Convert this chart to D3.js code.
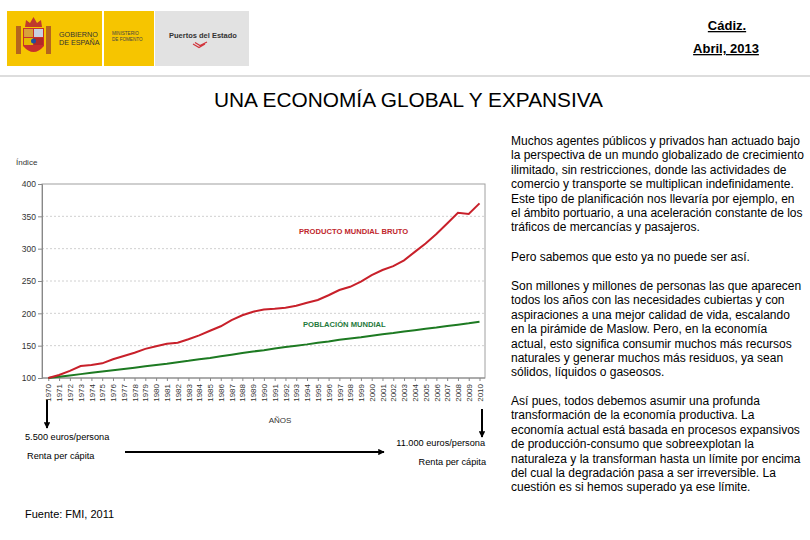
<!DOCTYPE html>
<html><head><meta charset="utf-8">
<script src="https://cdn.jsdelivr.net/npm/d3@7"></script>
<style>
html,body{margin:0;padding:0;background:#fff;}
svg{display:block;font-family:"Liberation Sans",Arial,sans-serif;}
</style></head>
<body>
<svg id="c" width="810" height="540"></svg>
<script>
const years = d3.range(1970, 2011);
const productoMundialBruto = [100,104.6,111,118.5,120,122.7,129,134,139,145,149,153,154.6,160,166,173,180,189.6,197,202.5,206,207,208.7,211.8,216.4,220.6,228,236,241,249,259,267,273,282,295,308,322.6,339,355.6,353.5,370];
const poblacionMundial = [100,102,104,106,108,110,112,114,116,118,120,122,124.5,126.5,129,131,133.5,136,138.5,141,143,145.5,148,150,152,154.5,156.5,159,161,163,165.5,167.5,169.5,172,174,176,178,180.5,182.5,184.5,187];
const yTicks = [100,150,200,250,300,350,400];
const seriesLabels = ["PRODUCTO MUNDIAL BRUTO","POBLACIÓN MUNDIAL"];
const par1 = ["Muchos agentes públicos y privados han actuado bajo","la perspectiva de un mundo globalizado de crecimiento","ilimitado, sin restricciones, donde las actividades de","comercio y transporte se multiplican indefinidamente.","Este tipo de planificación nos llevaría por ejemplo, en","el ámbito portuario, a una aceleración constante de los","tráficos de mercancías y pasajeros."];
const par2 = ["Pero sabemos que esto ya no puede ser así."];
const par3 = ["Son millones y millones de personas las que aparecen","todos los años con las necesidades cubiertas y con","aspiraciones a una mejor calidad de vida, escalando","en la pirámide de Maslow.  Pero, en la economía","actual, esto significa consumir muchos más recursos","naturales y generar muchos más residuos, ya sean","sólidos, líquidos o gaseosos."];
const par4 = ["Así pues, todos debemos asumir una profunda","transformación de la economía productiva. La","economía actual está basada en procesos expansivos","de producción-consumo que sobreexplotan la","naturaleza y la transforman hasta un límite por encima","del cual la degradación pasa a ser irreversible. La","cuestión es si hemos superado ya ese límite."];

const svg = d3.select("#c");

// ---- header logos ----
const hdr = svg.append("g");
hdr.append("rect").attr("x",7).attr("y",11).attr("width",95).attr("height",55).attr("fill","#f6c500");
hdr.append("rect").attr("x",104).attr("y",11).attr("width",50).attr("height",55).attr("fill","#f6c500");
hdr.append("rect").attr("x",155).attr("y",11).attr("width",94).attr("height",55).attr("fill","#e2e2e2");
// simplified coat of arms
const ca = hdr.append("g");
ca.append("rect").attr("x",16).attr("y",26).attr("width",5).attr("height",28).attr("fill","#b5651d");
ca.append("rect").attr("x",46).attr("y",26).attr("width",5).attr("height",28).attr("fill","#b5651d");
ca.append("path").attr("d","M23,28 L44,28 L44,46 Q33.5,58 23,46 Z").attr("fill","#c8312b");
ca.append("rect").attr("x",24).attr("y",29).attr("width",9).attr("height",8).attr("fill","#d9a13a");
ca.append("rect").attr("x",34).attr("y",29).attr("width",9).attr("height",8).attr("fill","#c8d0e0");
ca.append("rect").attr("x",24).attr("y",38).attr("width",9).attr("height",7).attr("fill","#e6b800");
ca.append("rect").attr("x",34).attr("y",38).attr("width",9).attr("height",7).attr("fill","#b02a2a");
ca.append("path").attr("d","M25,27 L26,20 L30,23 L33.5,17 L37,23 L41,20 L42,27 Z").attr("fill","#c0392b");
ca.append("circle").attr("cx",33.5).attr("cy",41).attr("r",2.5).attr("fill","#1f4fa0");
hdr.append("text").attr("x",59).attr("y",37).attr("font-size",7.2).attr("fill","#333").text("GOBIERNO");
hdr.append("text").attr("x",59).attr("y",45).attr("font-size",7.2).attr("fill","#333").text("DE ESPAÑA");
hdr.append("text").attr("x",112).attr("y",35).attr("font-size",4.6).attr("fill","#444").text("MINISTERIO");
hdr.append("text").attr("x",112).attr("y",41).attr("font-size",4.6).attr("fill","#444").text("DE FOMENTO");
hdr.append("text").attr("x",169).attr("y",38).attr("font-size",7.5).attr("font-weight","bold").attr("fill","#333").text("Puertos del Estado");
hdr.append("path").attr("d","M193,44 L199,47.5 L205,44 M195,42.5 L200,45.5 L207,42").attr("stroke","#d2343c").attr("stroke-width",1.2).attr("fill","none");

// top-right
svg.append("text").attr("x",727).attr("y",30).attr("text-anchor","middle").attr("font-size",13).attr("font-weight","bold").attr("text-decoration","underline").text("Cádiz.");
svg.append("text").attr("x",726).attr("y",53).attr("text-anchor","middle").attr("font-size",13).attr("font-weight","bold").attr("text-decoration","underline").text("Abril, 2013");
svg.append("line").attr("x1",0).attr("x2",810).attr("y1",76).attr("y2",76).attr("stroke","#bbb").attr("stroke-width",1);

// title
svg.append("text").attr("x",214).attr("y",107).attr("font-size",20).attr("textLength",389).attr("lengthAdjust","spacingAndGlyphs").attr("fill","#000").text("UNA ECONOMÍA GLOBAL Y EXPANSIVA");

// ---- chart ----
const x = d3.scaleLinear().domain([1970,2010]).range([48.3,479.5]);
const y = d3.scaleLinear().domain([100,400]).range([378,184]);
const plotL = 42, plotR = 485;
const ch = svg.append("g");
ch.append("text").attr("x",16).attr("y",165).attr("font-size",8).attr("fill","#333").text("Índice");
ch.selectAll(".grid").data(yTicks.filter(t=>t>100 && t<400)).enter().append("line")
  .attr("x1",plotL).attr("x2",plotR).attr("y1",d=>y(d)).attr("y2",d=>y(d))
  .attr("stroke","#d0d0d0").attr("stroke-dasharray","2,2");
ch.append("rect").attr("x",plotL).attr("y",y(400)).attr("width",plotR-plotL).attr("height",y(100)-y(400))
  .attr("fill","none").attr("stroke","#a0a0a0").attr("stroke-width",1);
const yAxis = d3.axisLeft(y).tickValues(yTicks).tickSize(4).tickPadding(2).tickFormat(d3.format("d"));
const gy = ch.append("g").attr("transform",`translate(${plotL},0)`).call(yAxis);
gy.select(".domain").attr("stroke","#888");
gy.selectAll(".tick line").attr("stroke","#888");
gy.selectAll("text").attr("font-size",8.5).attr("fill","#333").attr("font-family","Liberation Sans, Arial, sans-serif");
const xAxis = d3.axisBottom(x).tickValues(years).tickSize(3).tickPadding(2).tickFormat(d3.format("d"));
const gx = ch.append("g").attr("transform",`translate(0,${y(100)})`).call(xAxis);
gx.select(".domain").attr("stroke","#888").attr("d",`M${plotL},0H${plotR}`);
gx.selectAll(".tick line").attr("stroke","#888");
gx.selectAll("text").attr("font-size",8).attr("fill","#333").attr("font-family","Liberation Sans, Arial, sans-serif")
  .attr("transform","rotate(-90)").attr("text-anchor","end").attr("dy","0.33em").attr("x",-6).attr("y",0);
ch.append("text").attr("x",280).attr("y",423).attr("text-anchor","middle").attr("font-size",8).attr("fill","#333").text("AÑOS");

const line = d3.line().x((d,i)=>x(years[i])).y(d=>y(d));
ch.append("path").datum(poblacionMundial).attr("d",line).attr("fill","none").attr("stroke","#1d7a22").attr("stroke-width",2);
ch.append("path").datum(productoMundialBruto).attr("d",line).attr("fill","none").attr("stroke","#c8202a").attr("stroke-width",2);
ch.append("text").attr("x",299).attr("y",234).attr("font-size",7.6).attr("font-weight","bold").attr("fill","#c0272d").text(seriesLabels[0]);
ch.append("text").attr("x",303).attr("y",327).attr("font-size",7.6).attr("font-weight","bold").attr("fill","#1e7a3c").text(seriesLabels[1]);

// arrows
const defs = svg.append("defs");
defs.append("marker").attr("id","ah").attr("viewBox","0 0 10 10").attr("refX",9).attr("refY",5)
  .attr("markerWidth",3.2).attr("markerHeight",3.2).attr("orient","auto")
  .append("path").attr("d","M0,0 L10,5 L0,10 Z").attr("fill","#000");
svg.append("line").attr("x1",47).attr("x2",47).attr("y1",400).attr("y2",428).attr("stroke","#000").attr("stroke-width",2).attr("marker-end","url(#ah)");
svg.append("line").attr("x1",482).attr("x2",482).attr("y1",409).attr("y2",437).attr("stroke","#000").attr("stroke-width",2).attr("marker-end","url(#ah)");
svg.append("line").attr("x1",125).attr("x2",384).attr("y1",452).attr("y2",452).attr("stroke","#000").attr("stroke-width",2).attr("marker-end","url(#ah)");

svg.append("text").attr("x",25).attr("y",440).attr("font-size",9.2).text("5.500 euros/persona");
svg.append("text").attr("x",27).attr("y",459).attr("font-size",9.2).text("Renta per cápita");
svg.append("text").attr("x",485).attr("y",446).attr("text-anchor","end").attr("font-size",9.2).text("11.000 euros/persona");
svg.append("text").attr("x",486).attr("y",465).attr("text-anchor","end").attr("font-size",9.2).text("Renta per cápita");
svg.append("text").attr("x",25).attr("y",518).attr("font-size",11).text("Fuente: FMI, 2011");

const tb = svg.append("g").attr("font-size",12).attr("fill","#000");
function para(lines, y0){
  tb.selectAll(null).data(lines).enter().append("text")
    .attr("x",511).attr("y",(d,i)=>y0 + i*14.4).text(d=>d);
}
para(par1,145);
para(par2,261);
para(par3,290);
para(par4,405);
</script>
</body></html>
